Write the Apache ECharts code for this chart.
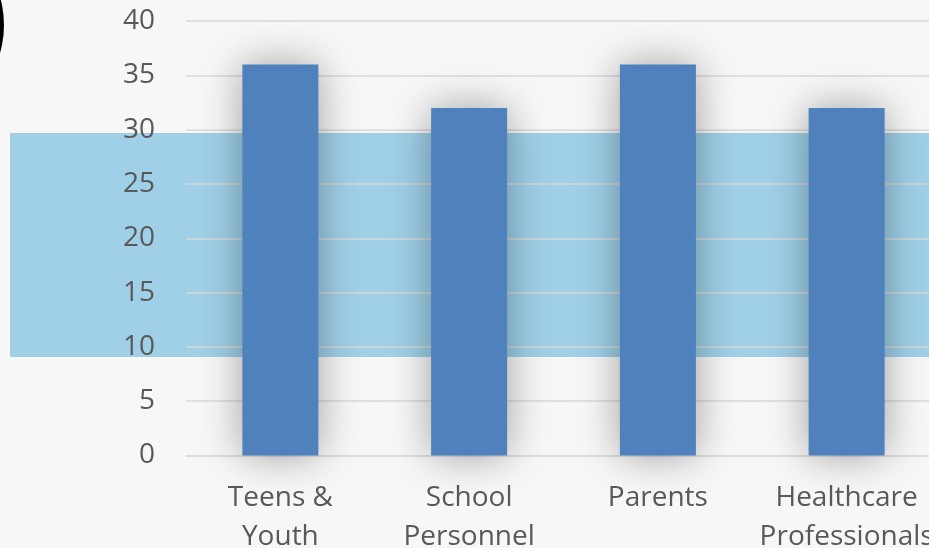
<!DOCTYPE html>
<html>
<head>
<meta charset="utf-8">
<script src="https://cdn.jsdelivr.net/npm/echarts@6/dist/echarts.min.js"></script>
<style>
  html, body { margin: 0; padding: 0; background: #f7f7f7; }
  #chart { width: 929px; height: 548px; }
</style>
</head>
<body>
<div id="chart"></div>
<script>
const categories = ["Teens &\nYouth", "School\nPersonnel", "Parents", "Healthcare\nProfessionals"];
const values = [36, 32, 36, 32];
const yTicks = { min: 0, max: 40, interval: 5 };

const chart = echarts.init(document.getElementById("chart"));
const font = "'Open Sans', 'Noto Sans', sans-serif";

chart.setOption({
  backgroundColor: "#f7f7f7",
  animation: false,
  grid: { left: 186, top: 21, width: 755, bottom: 92.5, containLabel: false, outerBoundsMode: "none" },
  graphic: [
    // light blue band behind the plot
    { type: "rect", z: -10, shape: { x: 10, y: 133, width: 930, height: 224 }, style: { fill: "#9fd0e8" } },
    // black circle edge, top left
    { type: "circle", z: -10, shape: { cx: -96, cy: 25, r: 100 }, style: { fill: "#000" } },
  ],
  xAxis: {
    type: "category",
    data: categories,
    axisLine: { show: true, lineStyle: { color: "#d9d9d9", width: 1.5 } },
    axisTick: { show: false },
    axisLabel: { color: "#595959", fontFamily: font, fontSize: 28, lineHeight: 39, margin: 23, interval: 0 },
  },
  yAxis: {
    type: "value",
    min: yTicks.min,
    max: yTicks.max,
    interval: yTicks.interval,
    axisLine: { show: false },
    axisTick: { show: false },
    axisLabel: { color: "#595959", fontFamily: font, fontSize: 28, margin: 31 },
    splitLine: { lineStyle: { color: "#d9d9d9", width: 1.5 } },
  },
  series: [{
    type: "bar",
    data: values,
    barWidth: 76,
    itemStyle: {
      color: "#4f81bd",
      shadowBlur: 40,
      shadowColor: "rgba(0,0,0,0.36)",
    },
  }],
});
</script>
</body>
</html>
